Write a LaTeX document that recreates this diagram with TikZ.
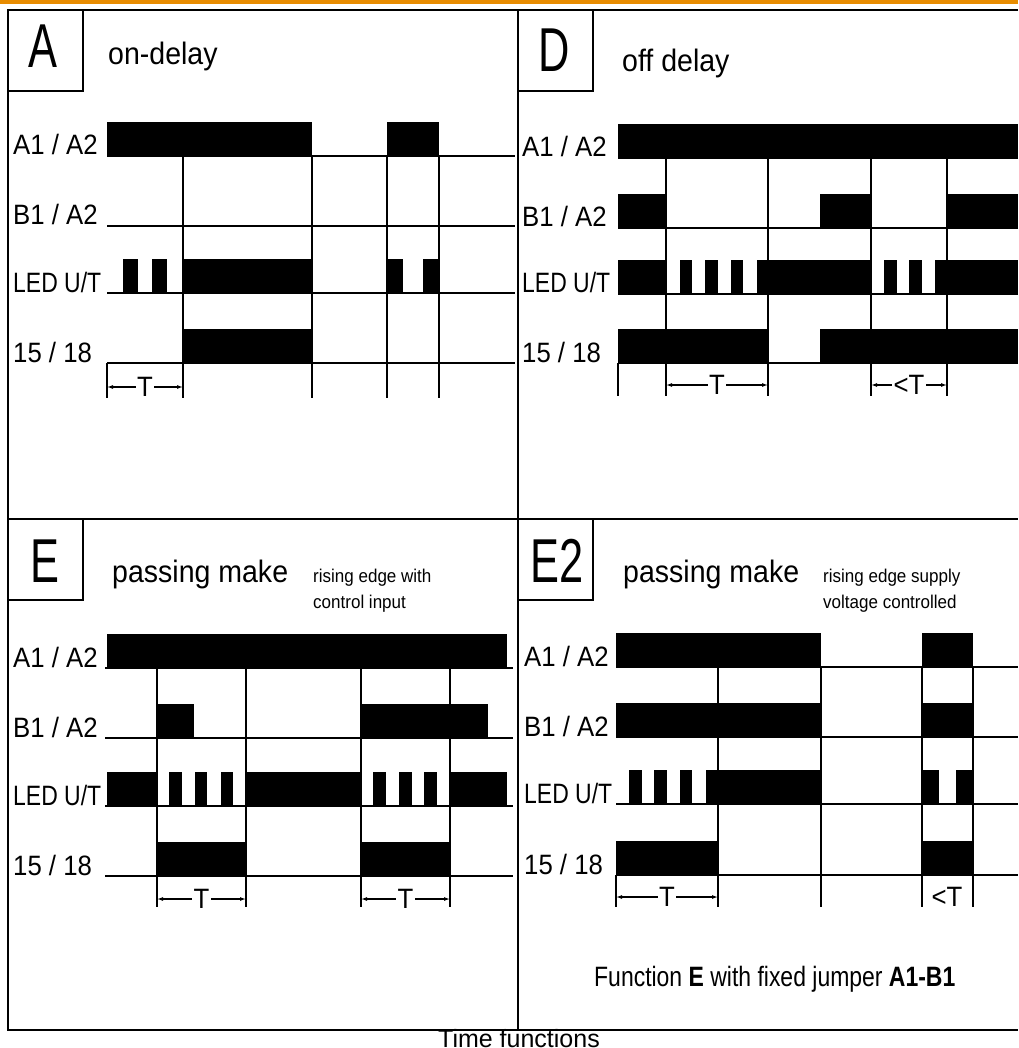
\documentclass[tikz,border=0pt]{standalone}
\usepackage{fontspec}
\setmainfont{Liberation Sans}
\newfontfamily\condfont{Liberation Sans}[FakeStretch=0.92]
\newfontfamily\narrowfont{Liberation Sans}[FakeStretch=0.82]
\newfontfamily\bigfont{Liberation Sans}[FakeStretch=0.7]
\usetikzlibrary{arrows.meta}
\definecolor{barorange}{RGB}{232,140,0}
\newcommand\sigrow[4]{\draw[sigline] (#2,#1) -- (#3,#1);
  \foreach \xa/\xb in {#4} {\fill (\xa,#1) rectangle (\xb,#1-34);}}
\newcommand\rowlabels[6]{%
  \node[rowlabel] (#1a) at (#2,#3) {A1 / A2};
  \node[rowlabel] (#1b) at (#2,#4) {B1 / A2};
  \node[rowlabel,font=\narrowfont\fontsize{28}{30}\selectfont] (#1l) at (#2,#5) {LED U/T};
  \node[rowlabel] (#1o) at (#2,#6) {15 / 18};}
\begin{document}
\begin{tikzpicture}[x=1pt,y=-1pt,
  frame/.style={line width=1.6pt},
  sigline/.style={line width=1.6pt},
  tick/.style={line width=1.6pt},
  tmark/.style={line width=1.1pt,{Latex[length=6pt,width=4pt]}-{Latex[length=6pt,width=4pt]}},
  rowlabel/.style={anchor=base west,inner sep=0pt,font=\condfont\fontsize{28}{30}\selectfont},
  tlabel/.style={fill=white,inner sep=1.5pt,font=\condfont\fontsize{28}{30}\selectfont},
  letter/.style={anchor=base,inner sep=0pt,font=\bigfont\fontsize{62}{64}\selectfont},
  title/.style={anchor=base west,inner sep=0pt,font=\condfont\fontsize{31}{34}\selectfont},
  note/.style={anchor=base west,inner sep=0pt,font=\condfont\fontsize{18.5}{26}\selectfont}]
  \useasboundingbox (0,0) rectangle (1018,1048);
  \fill[white] (0,0) rectangle (1018,1048);
  \fill[barorange] (0,0) rectangle (1018,4.5);
  \draw[frame] (1018,10) -- (8,10) -- (8,1030) -- (1018,1030);
  \draw[frame] (518,10) -- (518,1030);
  \draw[frame] (8,519) -- (1018,519);
  \foreach \x/\y in {8/10,518/10,8/519,518/519} \draw[frame] (\x,\y) rectangle (\x+75,\y+81);
  \node[letter] (ltrA) at (43,68) {A};
  \node[letter] (ltrD) at (554,72) {D};
  \node[letter] (ltrE) at (45,582) {E};
  \node[letter] (ltrEE) at (557,582) {E2};
  \node[title] (ttlA) at (108,65) {on-delay};
  \node[title] (ttlD) at (622,72) {off delay};
  \node[title] (ttlE) at (112,582) {passing make};
  \node[title] (ttlEE) at (623,582) {passing make};
  \node[note] (noteEa) at (313,582) {rising edge with};
  \node[note] (noteEb) at (313,608) {control input};
  \node[note] (noteEEa) at (823,582) {rising edge supply};
  \node[note] (noteEEb) at (823,608) {voltage controlled};
  \rowlabels{lA}{13}{155}{225}{292}{362}
  \rowlabels{lD}{522}{157}{227}{293}{362}
  \rowlabels{lE}{13}{667}{737}{805}{875}
  \rowlabels{lEE}{524}{666}{736}{803}{874}

  \sigrow{156}{107}{515}{107/312,387/439}
  \draw[sigline] (107,226) -- (515,226);
  \sigrow{293}{107}{515}{123/138,152/167,183/312,387/403,423/439}
  \sigrow{363}{107}{515}{183/312}
  \foreach \x in {183,312,387,439} \draw[tick] (\x,156) -- (\x,398);
  \draw[tick] (107,363) -- (107,398);
  \draw[tmark] (107,387) -- node[tlabel] (tA) {T} (183,387);

  \sigrow{158}{618}{1018}{618/1018}
  \sigrow{228}{618}{1018}{618/666,820/871,947/1018}
  \sigrow{294}{618}{1018}{618/666,680/692,705/718,731/743,757/871,884/897,909/922,935/1018}
  \sigrow{363}{618}{1018}{618/768,820/1018}
  \foreach \x in {666,768,871,947} \draw[tick] (\x,158) -- (\x,396);
  \draw[tick] (618,363) -- (618,396);
  \draw[tmark] (666,385) -- node[tlabel] (tDa) {T} (768,385);
  \draw[tmark] (871,385) -- node[tlabel] (tDb) {<T} (947,385);

  \sigrow{668}{105}{513}{107/507}
  \sigrow{738}{105}{513}{157/194,361/488}
  \sigrow{806}{105}{513}{107/157,169/182,195/207,221/233,246/361,373/386,399/412,424/437,450/507}
  \sigrow{876}{105}{513}{157/246,361/450}
  \foreach \x in {157,246,361,450} \draw[tick] (\x,668) -- (\x,907);
  \draw[tmark] (157,899) -- node[tlabel] (tEa) {T} (246,899);
  \draw[tmark] (361,899) -- node[tlabel] (tEb) {T} (450,899);

  \sigrow{667}{616}{1018}{616/821,922/973}
  \sigrow{737}{616}{1018}{616/821,922/973}
  \sigrow{804}{616}{1018}{629/642,654/667,680/692,706/821,922/939,956/973}
  \sigrow{875}{616}{1018}{616/718,922/973}
  \foreach \x in {718,821,922,973} \draw[tick] (\x,667) -- (\x,907);
  \draw[tick] (616,875) -- (616,907);
  \draw[tmark] (616,897) -- node[tlabel] (tEEa) {T} (718,897);
  \node[tlabel,fill=none] (tEEb) at (947,897) {<T};

  \node[anchor=base west,inner sep=0pt,font=\narrowfont\fontsize{28}{30}\selectfont] (jumper) at (594,986) {Function \textbf{E} with fixed jumper \textbf{A1-B1}};
  \node[anchor=base,inner sep=0pt,font=\fontsize{25}{27}\selectfont] (caption) at (519,1047) {Time functions};
\end{tikzpicture}
\end{document}
